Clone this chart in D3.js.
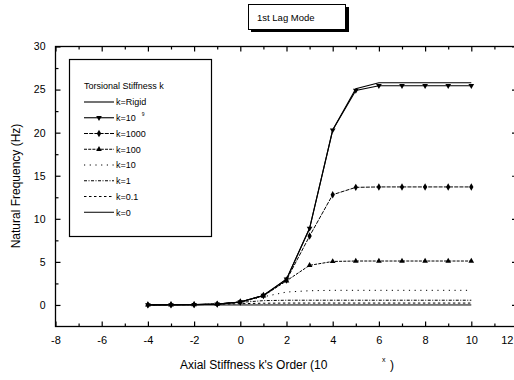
<!DOCTYPE html>
<html><head><meta charset="utf-8">
<script src="https://cdn.jsdelivr.net/npm/d3@7"></script>
<style>
html,body{margin:0;padding:0;background:#fff;overflow:hidden}
text{font-family:"Liberation Sans",Arial,sans-serif;fill:#000}
.tick text{font-family:"Liberation Sans Narrow","Arial Narrow","Liberation Sans",sans-serif}
</style></head>
<body>
<script>
// ---- data ----
const xOrders = [-4,-3,-2,-1,0,1,2,3,4,5,6,7,8,9,10];
const kRigid  = [0.01,0.02,0.04,0.1,0.35,1.1,3.0,8.9,20.3,25.1,25.8,25.8,25.8,25.8,25.8];
const k1e9    = [0.01,0.02,0.04,0.1,0.35,1.1,3.0,8.9,20.3,24.9,25.45,25.45,25.45,25.45,25.45];
const k1000   = [0.01,0.02,0.04,0.1,0.35,1.1,2.9,8.0,12.8,13.65,13.7,13.7,13.7,13.7,13.7];
const k100    = [0.01,0.02,0.04,0.1,0.35,1.05,2.8,4.6,5.05,5.1,5.1,5.1,5.1,5.1,5.1];
const k10     = [0.01,0.02,0.04,0.1,0.33,0.95,1.5,1.65,1.7,1.7,1.7,1.7,1.7,1.7,1.7];
const k1      = [0.01,0.02,0.04,0.1,0.3,0.5,0.55,0.55,0.55,0.55,0.55,0.55,0.55,0.55,0.55];
const k01     = [0.01,0.02,0.04,0.08,0.15,0.2,0.22,0.22,0.22,0.22,0.22,0.22,0.22,0.22,0.22];
const k0      = [0,0,0,0,0,0,0,0,0,0,0,0,0,0,0];
const xTicks  = [-8,-6,-4,-2,0,2,4,6,8,10,12];
const yTicks  = [0,5,10,15,20,25,30];
const legendTitle = "Torsional Stiffness k";
const seriesNames = ["k=Rigid","k=10","k=1000","k=100","k=10","k=1","k=0.1","k=0"];
const seriesData  = [kRigid,k1e9,k1000,k100,k10,k1,k01,k0];
const chartTitle = "1st Lag Mode";
const xTitle = "Axial Stiffness k's Order (10";
const yTitle = "Natural Frequency (Hz)";

// ---- styles ----
const styles = [
  {dash:null, marker:null, w:1.1},
  {dash:null, marker:"down", w:1.1},
  {dash:"4,1.2", marker:"diamond", w:1},
  {dash:"3,1.2", marker:"up", w:1},
  {dash:"1.2,4.5", marker:null, w:1},
  {dash:"3,1.5,1,1.5", marker:null, w:1},
  {dash:"2.5,2.5", marker:null, w:1},
  {dash:null, marker:null, w:1}
];

const W=514,H=380;
const svg=d3.select("body").append("svg").attr("width",W).attr("height",H);
const x=d3.scaleLinear().domain([-8,12]).range([55.5,517.5]);
const y=d3.scaleLinear().domain([-2.5,30]).range([326.5,46.5]);

// frame
svg.append("rect").attr("x",x(-8)).attr("y",y(30)).attr("width",x(12)-x(-8)).attr("height",y(-2.5)-y(30))
  .attr("fill","none").attr("stroke","#000").attr("stroke-width",1.3);

const xMinor=d3.range(-7,12,2), yMinor=d3.range(2.5,30,5);
const fmt=d=>String(d);
function ax(gen, tr, vals, size, labels){
  const g=svg.append("g").attr("transform",tr).call(gen.tickValues(vals).tickSize(size).tickSizeOuter(0).tickPadding(8));
  g.select(".domain").remove();
  g.selectAll(".tick line").attr("stroke","#000").attr("stroke-width",1.2);
  if(!labels) g.selectAll(".tick text").remove();
  return g;
}
const gx=ax(d3.axisBottom(x).tickFormat(fmt),`translate(0,${y(-2.5)})`,xTicks,-5,true);
gx.selectAll(".tick text").attr("font-size",11).attr("dy","1.1em").attr("y",5);
gx.selectAll(".tick text").filter(d=>d===12).attr("text-anchor","end").attr("x",-4.5);
ax(d3.axisBottom(x),`translate(0,${y(-2.5)})`,xMinor,-3,false);
ax(d3.axisTop(x),`translate(0,${y(30)})`,xTicks,-5,false);
ax(d3.axisTop(x),`translate(0,${y(30)})`,xMinor,-3,false);
const gy=ax(d3.axisLeft(y).tickFormat(fmt),`translate(${x(-8)},0)`,yTicks,-5,true);
gy.selectAll(".tick text").attr("font-size",10.5).attr("x",-10);
ax(d3.axisLeft(y),`translate(${x(-8)},0)`,yMinor,-3,false);
ax(d3.axisRight(y),`translate(${x(12)},0)`,yTicks,-5.5,false);
ax(d3.axisRight(y),`translate(${x(12)},0)`,yMinor,-3,false);

// series
const line=d3.line().x((d,i)=>x(xOrders[i])).y(d=>y(d));
function marker(g,type,cx,cy){
  if(type==="down") g.append("path").attr("d",d3.symbol().type(d3.symbolTriangle).size(14)()).attr("transform",`translate(${cx},${cy}) rotate(180)`);
  else if(type==="up") g.append("path").attr("d",d3.symbol().type(d3.symbolTriangle).size(14)()).attr("transform",`translate(${cx},${cy})`);
  else if(type==="diamond") g.append("path").attr("d",d3.symbol().type(d3.symbolDiamond).size(16)()).attr("transform",`translate(${cx},${cy})`);
}
const order=[7,6,5,4,3,2,1,0];
order.forEach(si=>{
  const st=styles[si];
  svg.append("path").datum(seriesData[si]).attr("d",line).attr("fill","none").attr("stroke","#000")
    .attr("stroke-width",st.w).attr("stroke-dasharray",st.dash);
  if(st.marker){
    const g=svg.append("g").attr("fill","#000");
    seriesData[si].forEach((v,i)=>marker(g,st.marker,x(xOrders[i]),y(v)));
  }
});

// legend
svg.append("rect").attr("x",69.5).attr("y",59.5).attr("width",142).attr("height",177)
  .attr("fill","#fff").attr("stroke","#000").attr("stroke-width",1.2);
svg.append("text").attr("x",84).attr("y",89).attr("font-size",9).text(legendTitle);
seriesNames.forEach((n,i)=>{
  const ly=102+i*15.75, st=styles[i];
  svg.append("line").attr("x1",84).attr("x2",114).attr("y1",ly).attr("y2",ly).attr("stroke","#000")
    .attr("stroke-width",st.w).attr("stroke-dasharray",st.dash);
  if(st.marker){ const g=svg.append("g").attr("fill","#000"); marker(g,st.marker,99,ly); }
  const t=svg.append("text").attr("x",116).attr("y",ly+3.3).attr("font-size",9).text(n);
  if(i===1) t.append("tspan").attr("dx",6).attr("dy",-5).attr("font-size",5).text("9");
});

// title box
svg.append("rect").attr("x",251).attr("y",7).attr("width",98).attr("height",25).attr("fill","#000");
svg.append("rect").attr("x",248.5).attr("y",4.5).attr("width",97).attr("height",25).attr("fill","#fff").attr("stroke","#000").attr("stroke-width",1);
svg.append("text").attr("x",257).attr("y",21).attr("font-size",9.5).text(chartTitle);

// axis titles
svg.append("text").attr("x",180).attr("y",369).attr("font-size",12).text(xTitle);
svg.append("text").attr("x",382).attr("y",362).attr("font-size",7).text("x");
svg.append("text").attr("x",390).attr("y",369).attr("font-size",12).text(")");
svg.append("text").attr("transform","translate(20,186) rotate(-90)").attr("text-anchor","middle").attr("font-size",12).text(yTitle);
</script>
</body></html>
